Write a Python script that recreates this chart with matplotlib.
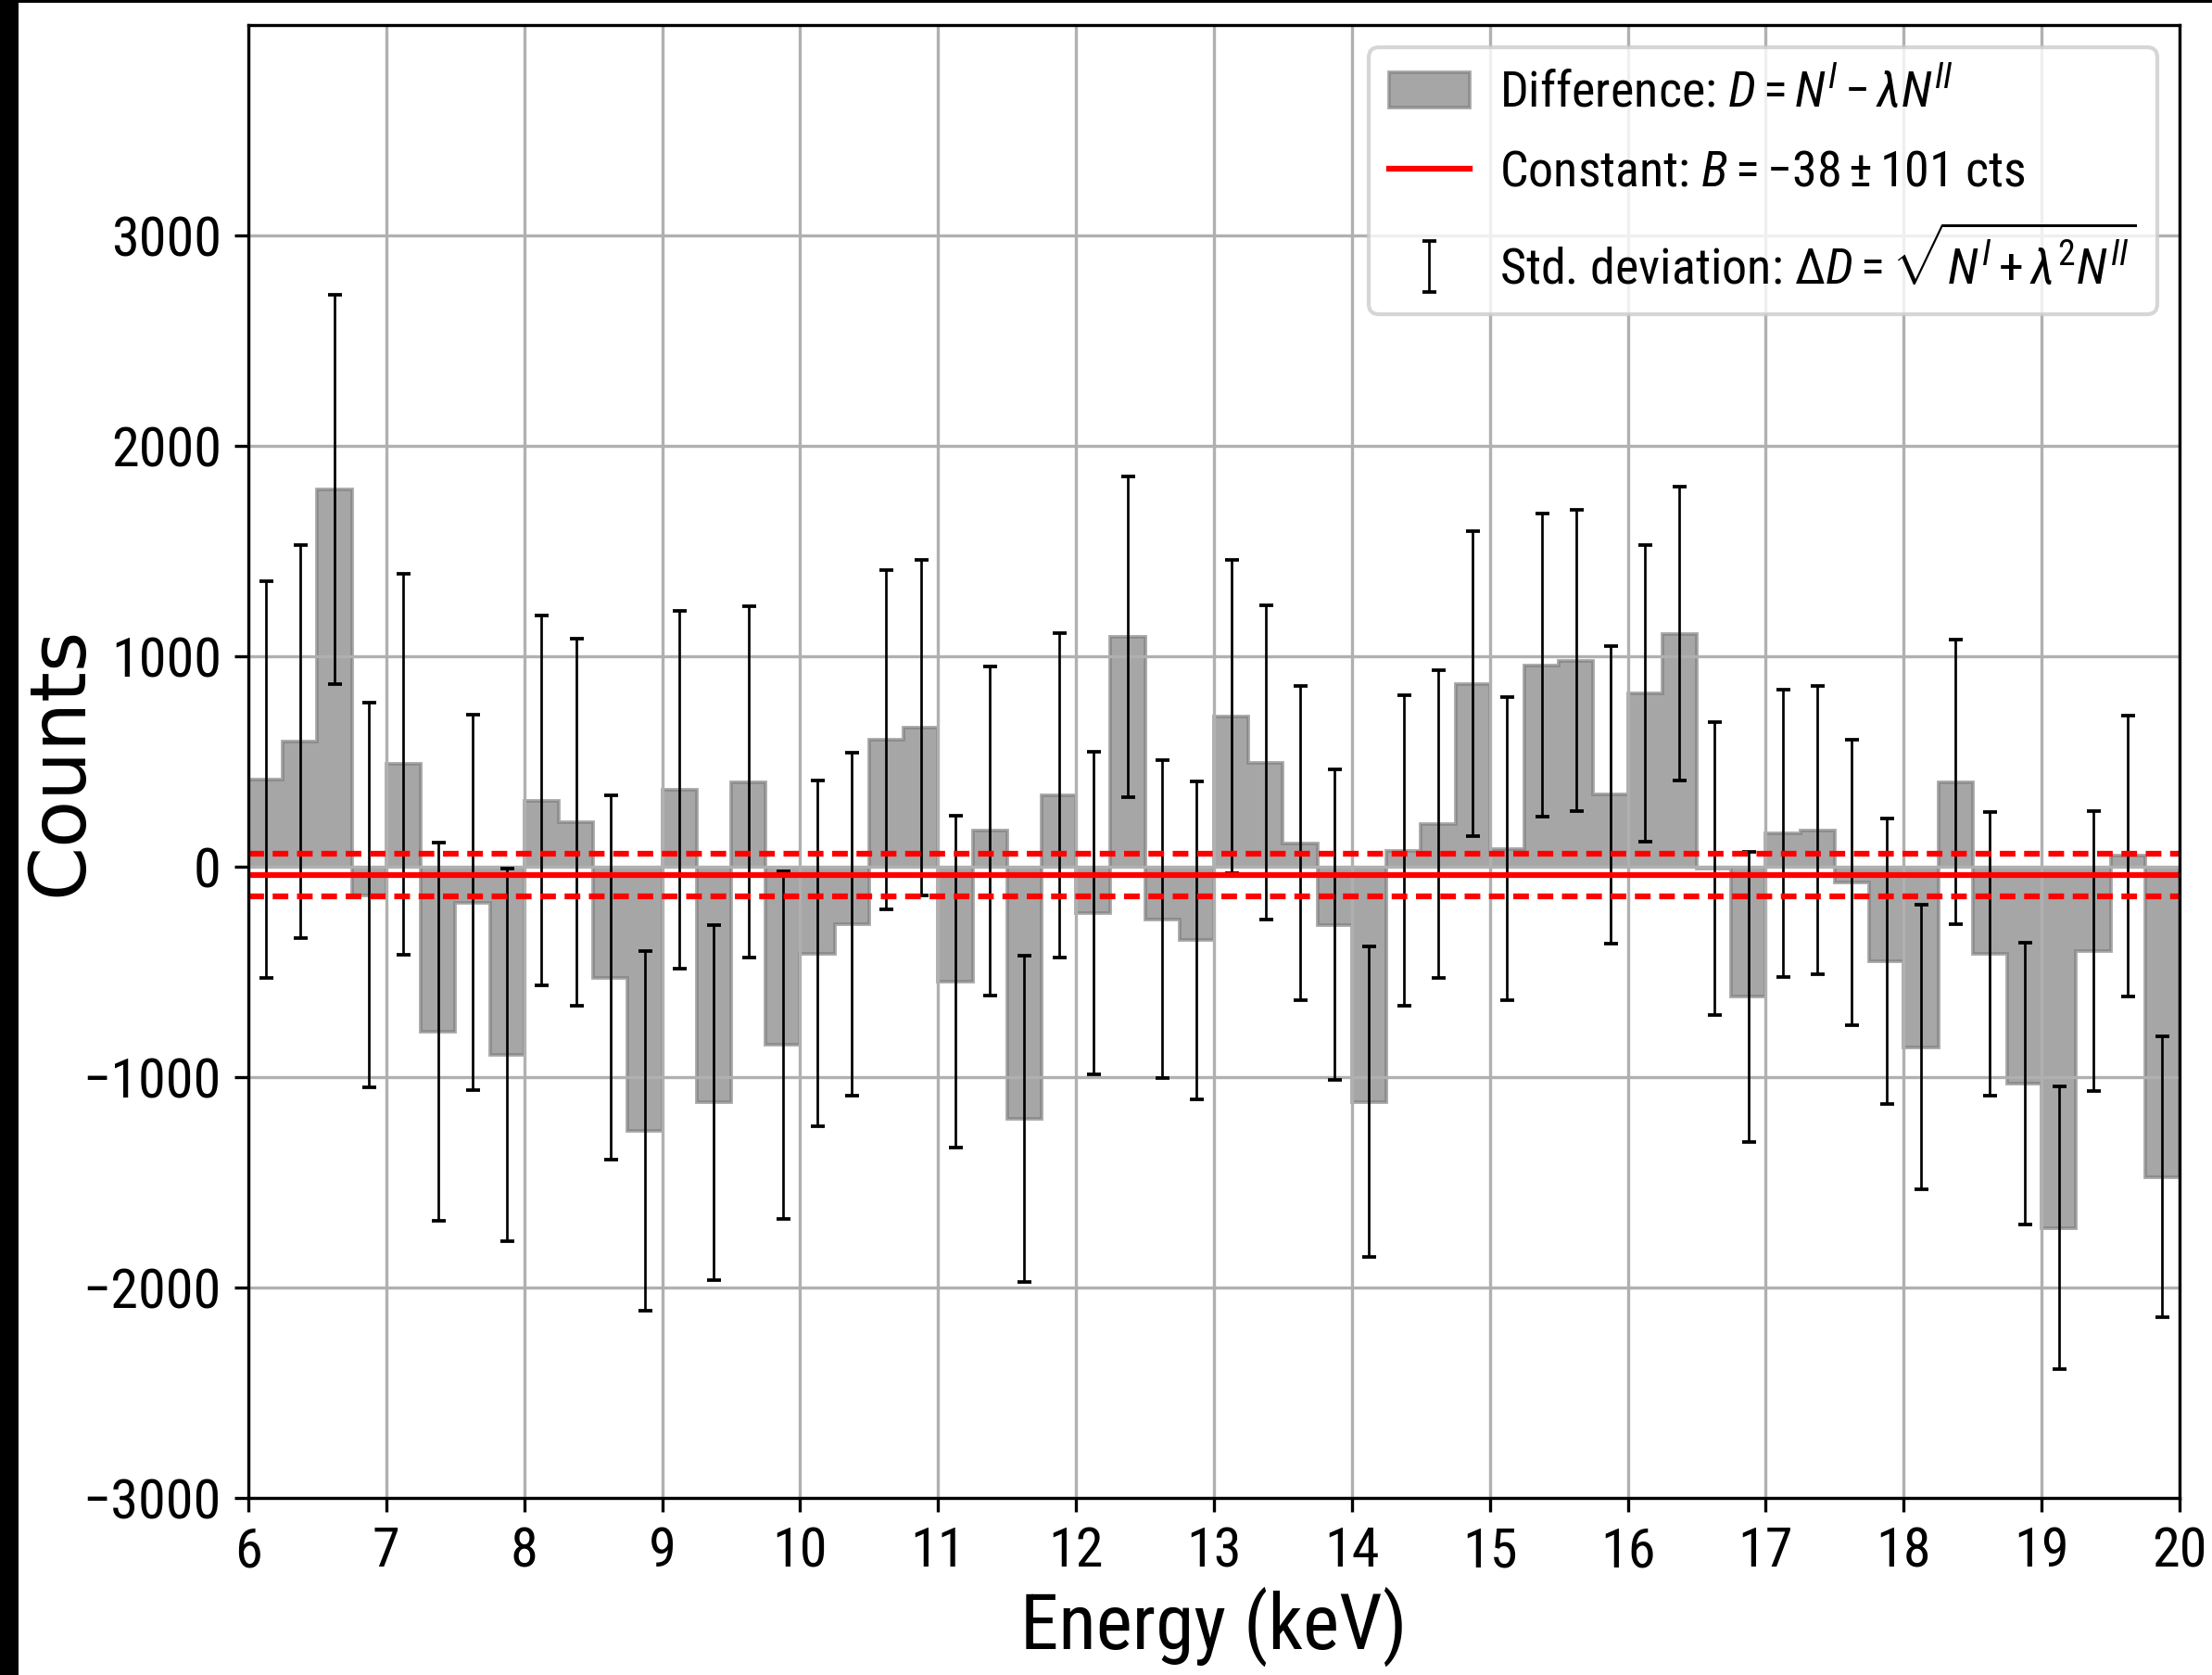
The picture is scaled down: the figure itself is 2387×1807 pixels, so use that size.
import os
import numpy as np
import matplotlib
matplotlib.use("Agg")
import matplotlib.pyplot as plt
from matplotlib import font_manager as fm
from matplotlib.patches import Rectangle
from matplotlib.ticker import MultipleLocator

# difference spectrum D = N^I - lambda N^II in 0.25 keV bins, 6-20 keV
edges = np.linspace(6, 20, 57)
diff = [414, 595, 1793, -135, 488, -785, -170, -895, 314, 210, -528, -1257, 366, -1121,
        403, -848, -413, -274, 604, 659, -546, 170, -1197, 340, -219, 1093, -250, -350,
        712, 495, 112, -276, -1117, 77, 202, 869, 85, 957, 980, 343, 824, 1106,
        -9, -618, 158, 173, -74, -449, -857, 403, -415, -1030, -1716, -401, 52, -1474]
sigma = [941, 935, 926, 915, 905, 898, 893, 885, 880, 872, 866, 855, 850, 843,
         835, 828, 822, 814, 805, 797, 788, 781, 776, 772, 766, 762, 755, 755,
         745, 748, 745, 738, 738, 736, 730, 724, 720, 720, 717, 707, 703, 698,
         695, 690, 684, 685, 679, 677, 676, 676, 674, 670, 670, 667, 667, 666]
B = -38
dB = 101


# the text in the reference looks squeezed sideways -> look for a narrow face
def pick_font():
    names = {f.name for f in fm.fontManager.ttflist}
    for fam in ["Liberation Sans Narrow", "Roboto Condensed", "Open Sans Condensed",
                "Noto Sans Condensed", "Arial Narrow"]:
        if fam in names:
            return fam, "normal"
    for fam in ["DejaVu Sans", "Noto Sans", "Open Sans", "Roboto"]:
        try:
            path = fm.findfont(fm.FontProperties(family=fam, stretch="condensed"),
                               fallback_to_default=False)
        except Exception:
            continue
        if "ondensed" in os.path.basename(path) or "arrow" in os.path.basename(path):
            return fam, "condensed"
    return "Liberation Sans", "normal"


font, stretch = pick_font()
plt.rcParams["font.family"] = [font, "DejaVu Sans"]
plt.rcParams["font.stretch"] = stretch

suffix = ""
if stretch == "condensed":
    try:
        fm.FontProperties(font + ":italic:condensed")
        suffix = ":condensed"
    except Exception:
        suffix = ""
plt.rcParams["mathtext.fontset"] = "custom"
plt.rcParams["mathtext.rm"] = font + suffix
plt.rcParams["mathtext.it"] = font + ":italic" + suffix
plt.rcParams["mathtext.bf"] = font + ":bold" + suffix

W, H = 2387, 1807
fig = plt.figure(figsize=(W / 300, H / 300), dpi=300)
ax = fig.add_axes([268 / W, 1 - 1616 / H, (2352 - 268) / W, (1616 - 27) / H])

centers = (edges[:-1] + edges[1:]) / 2
h_bar = ax.stairs(diff, edges, fill=True, facecolor="gray", edgecolor="gray",
                  alpha=0.7, linewidth=0.9)
h_err = ax.errorbar(centers, diff, yerr=sigma, fmt="none", ecolor="black",
                    elinewidth=0.65, capsize=1.8, capthick=0.9)
h_const = ax.axhline(B, color="red", lw=1.5)
ax.axhline(B + dB, color="red", lw=1.5, ls=(0, (2.7, 1.5)))
ax.axhline(B - dB, color="red", lw=1.5, ls=(0, (2.7, 1.5)))

ax.set_xlim(6, 20)
ax.set_ylim(-3000, 4000)
ax.set_yticks(np.arange(-3000, 3001, 1000))
ax.xaxis.set_major_locator(MultipleLocator(1))
ax.tick_params(labelsize=14.5)
ax.grid(True)

ax.set_xlabel("Energy (keV)", fontsize=20)
ax.set_ylabel("Counts", fontsize=20, family="DejaVu Sans", stretch="normal")
ax.xaxis.set_label_coords(0.5, -0.060)
ax.yaxis.set_label_coords(-0.078, 0.5)

ax.legend([h_bar, h_const, h_err],
          [r"Difference: $D = N^I - \lambda N^{II}$",
           r"Constant: $B = -38 \pm 101$ cts",
           r"Std. deviation: $\Delta D = \sqrt{N^I + \lambda^2 N^{II}}$"],
          loc="upper right", fontsize=13, handlelength=1.6, handletextpad=0.6,
          labelspacing=0.62, borderaxespad=0.45)

# dark strips along the left and top border of the original picture
fig.add_artist(Rectangle((0, 0), 20 / W, 1, transform=fig.transFigure,
                         facecolor="black", edgecolor="none"))
fig.add_artist(Rectangle((0, 1 - 3 / H), 1, 3 / H, transform=fig.transFigure,
                         facecolor="black", edgecolor="none"))

fig.savefig("out.png", dpi=300)
